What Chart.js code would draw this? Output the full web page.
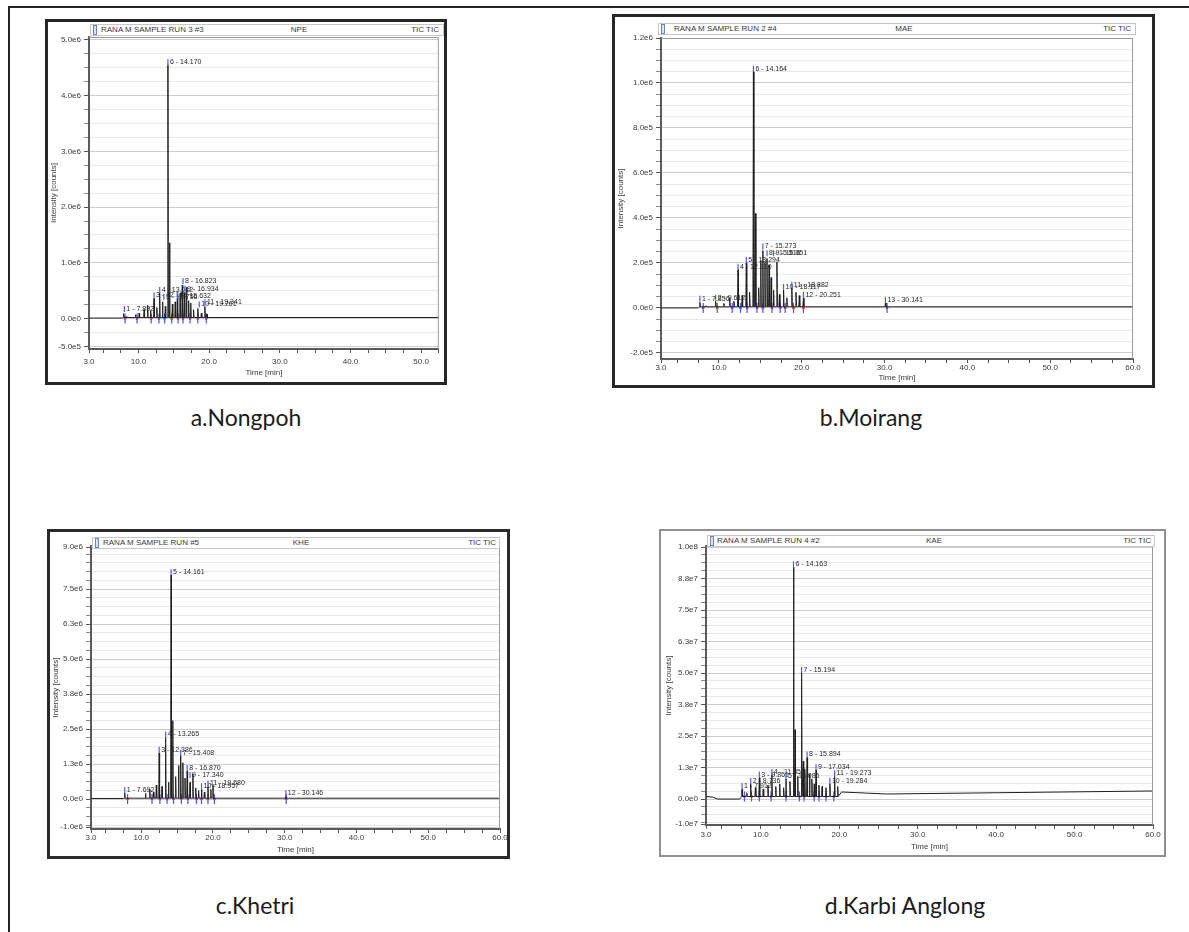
<!DOCTYPE html>
<html>
<head>
<meta charset="utf-8">
<script src="https://cdn.jsdelivr.net/npm/chart.js@4.4.1/dist/chart.umd.min.js"></script>
<style>
  body { margin: 0; width: 1189px; height: 932px; background: #fff; position: relative; overflow: hidden; font-family: 'Liberation Sans', Arial, sans-serif; }
  .frame { position: absolute; left: 8px; top: 6px; width: 1200px; height: 960px; border-left: 2px solid #222; border-top: 2px solid #222; }
  .box { position: absolute; box-sizing: border-box; z-index: 5; }
  .hdr { position: absolute; height: 12px; box-sizing: border-box; border: 1px solid #c6c6c6; background: #fff; font-size: 8px; line-height: 10px; color: #3a3a3a; z-index: 2; }
  .hdr span { position: absolute; top: 0; white-space: nowrap; }
  .hdr .mid { transform: translateX(-50%); }
  .hdr i { position: absolute; left: 2px; top: 0; width: 2px; height: 8px; border: 1px solid #6b86b5; background: #d8e4f4; }
  .cap { position: absolute; font-family: Lato, 'Open Sans', sans-serif; font-size: 23px; line-height: 28px; color: #1c1c1c; transform: translateX(-50%); white-space: nowrap; }
  canvas { position: absolute; z-index: 1; }
</style>
</head>
<body>
<div class="frame"></div>

<div class="box" style="left:45px;top:19px;width:402px;height:366px;border:3px solid #262626"></div>
<div class="box" style="left:612px;top:14px;width:543px;height:374px;border:3px solid #262626"></div>
<div class="box" style="left:47px;top:529px;width:463px;height:330px;border:3px solid #2a2a2a"></div>
<div class="box" style="left:659px;top:529px;width:507px;height:328px;border:2px solid #8f8f8f"></div>

<div class="hdr" style="left:90px;top:24px;width:354px"><i></i><span style="left:10px">RANA M SAMPLE RUN 3 #3</span><span class="mid" style="left:208px">NPE</span><span style="right:4px">TIC TIC</span></div>
<div class="hdr" style="left:658px;top:23px;width:478px"><i></i><span style="left:15px">RANA M SAMPLE RUN 2 #4</span><span class="mid" style="left:245px">MAE</span><span style="right:4px">TIC TIC</span></div>
<div class="hdr" style="left:92px;top:537px;width:408px"><i></i><span style="left:10px">RANA M SAMPLE RUN #5</span><span class="mid" style="left:208px">KHE</span><span style="right:3px">TIC TIC</span></div>
<div class="hdr" style="left:707px;top:535px;width:448px"><i></i><span style="left:9px">RANA M SAMPLE RUN 4 #2</span><span class="mid" style="left:226px">KAE</span><span style="right:3px">TIC TIC</span></div>

<div class="cap" style="left:246px;top:403px">a.Nongpoh</div>
<div class="cap" style="left:871px;top:403px">b.Moirang</div>
<div class="cap" style="left:255px;top:891px">c.Khetri</div>
<div class="cap" style="left:905px;top:891px">d.Karbi Anglong</div>

<script>
// shared x axis
const xTicks = [3, 10, 20, 30, 40, 50, 60];
const xTickLabels = ['3.0', '10.0', '20.0', '30.0', '40.0', '50.0', '60.0'];

// a. Nongpoh (NPE)
const aBefore = [[3, 0.01e6], [7.7, 0.01e6]];
const aTimes = [7.9, 8.3, 9.6, 10.1, 10.8, 11.3, 11.7, 12.2, 12.6, 13.0, 13.4, 13.8, 14.17, 14.4, 14.8, 15.2, 15.5, 15.9, 16.2, 16.5, 16.8, 17.1, 17.4, 17.8, 18.4, 18.9, 19.4, 19.7];
const aHeights = [0.09e6, 0.04e6, 0.07e6, 0.1e6, 0.16e6, 0.24e6, 0.14e6, 0.36e6, 0.2e6, 0.46e6, 0.3e6, 0.22e6, 4.55e6, 1.36e6, 0.26e6, 0.3e6, 0.35e6, 0.45e6, 0.6e6, 0.46e6, 0.56e6, 0.32e6, 0.28e6, 0.16e6, 0.18e6, 0.1e6, 0.22e6, 0.08e6];
const aAfter = [[20, 0.02e6], [60, 0.02e6]];
const aMarks = [8.1, 9.8, 11.8, 12.9, 13.7, 14.7, 15.6, 16.3, 17.3, 18.4, 19.6];
const aLabels = [
  [8.0, 0.12e6, '1 - 7.892'],
  [12.2, 0.36e6, '3 - 12.115'],
  [13.0, 0.46e6, '4 - 13.012'],
  [13.6, 0.34e6, '5 - 13.756'],
  [14.17, 4.55e6, '6 - 14.170'],
  [15.5, 0.35e6, '7 - 15.632'],
  [16.3, 0.62e6, '8 - 16.823'],
  [16.6, 0.48e6, '9 - 16.934'],
  [18.6, 0.2e6, '10 - 19.261'],
  [19.4, 0.24e6, '11 - 19.341']
];
const aYTicks = [-5e5, 0, 1e6, 2e6, 3e6, 4e6, 5e6];
const aYTickLabels = ['-5.0e5', '0.0e0', '1.0e6', '2.0e6', '3.0e6', '4.0e6', '5.0e6'];

// b. Moirang (MAE)
const bBefore = [[3, 0], [7.5, 0]];
const bTimes = [7.7, 8.4, 9.6, 10.6, 11.3, 11.8, 12.3, 12.8, 13.3, 13.7, 14.16, 14.4, 14.8, 15.05, 15.3, 15.55, 15.8, 16.05, 16.3, 16.6, 17.0, 17.3, 17.8, 18.2, 18.8, 19.3, 19.7, 20.2, 30.1];
const bHeights = [0.25e5, 0.1e5, 0.3e5, 0.2e5, 0.45e5, 0.3e5, 1.7e5, 0.55e5, 2.0e5, 0.7e5, 10.5e5, 4.2e5, 0.9e5, 2.1e5, 2.55e5, 2.05e5, 2.2e5, 1.9e5, 1.35e5, 0.8e5, 2.05e5, 0.6e5, 0.8e5, 0.45e5, 0.9e5, 0.7e5, 0.55e5, 0.45e5, 0.22e5];
const bAfter = [[30.5, 0.05e5], [60, 0.05e5]];
const bMarks = [8.1, 9.8, 11.6, 12.6, 13.4, 14.6, 15.3, 16.4, 17.4, 18.0, 19.0, 20.2, 30.3];
const bLabels = [
  [7.7, 0.27e5, '1 - 7.856'],
  [9.6, 0.32e5, '2 - 9.612'],
  [12.3, 1.7e5, '4 - 12.310'],
  [13.3, 2.0e5, '5 - 13.294'],
  [14.16, 10.5e5, '6 - 14.164'],
  [15.3, 2.6e5, '7 - 15.273'],
  [15.8, 2.3e5, '8 - 15.516'],
  [16.6, 2.3e5, '9 - 16.051'],
  [17.8, 0.8e5, '10 - 18.117'],
  [18.8, 0.9e5, '11 - 18.882'],
  [20.2, 0.45e5, '12 - 20.251'],
  [30.1, 0.22e5, '13 - 30.141']
];
const bYTicks = [-2e5, 0, 2e5, 4e5, 6e5, 8e5, 1e6, 1.2e6];
const bYTickLabels = ['-2.0e5', '0.0e0', '2.0e5', '4.0e5', '6.0e5', '8.0e5', '1.0e6', '1.2e6'];

// c. Khetri (KHE)
const cBefore = [[3, 0.02e6], [7.5, 0.02e6]];
const cTimes = [7.7, 8.4, 10.6, 11.2, 11.7, 12.1, 12.5, 12.9, 13.4, 13.8, 14.16, 14.4, 14.8, 15.2, 15.5, 15.8, 16.1, 16.4, 16.8, 17.2, 17.6, 18.0, 18.4, 18.8, 19.3, 19.7, 20.0, 30.15];
const cHeights = [0.22e6, 0.05e6, 0.2e6, 0.35e6, 0.25e6, 0.5e6, 1.65e6, 0.45e6, 2.2e6, 0.6e6, 8.0e6, 2.8e6, 0.8e6, 1.2e6, 1.55e6, 1.3e6, 0.75e6, 1.0e6, 0.6e6, 0.9e6, 0.4e6, 0.3e6, 0.35e6, 0.25e6, 0.45e6, 0.35e6, 0.5e6, 0.1e6];
const cAfter = [[30.5, 0.03e6], [60, 0.03e6]];
const cMarks = [8.1, 11.5, 12.6, 13.6, 14.5, 15.6, 16.5, 17.7, 18.4, 19.3, 20.2, 30.2];
const cLabels = [
  [7.7, 0.22e6, '1 - 7.692'],
  [12.5, 1.65e6, '3 - 12.386'],
  [13.4, 2.2e6, '4 - 13.265'],
  [14.16, 8.0e6, '5 - 14.161'],
  [15.5, 1.55e6, '7 - 15.408'],
  [16.4, 1.0e6, '8 - 16.870'],
  [16.8, 0.75e6, '9 - 17.340'],
  [18.4, 0.35e6, '10 - 18.957'],
  [19.3, 0.45e6, '11 - 19.680'],
  [30.15, 0.1e6, '12 - 30.146']
];
const cYTicks = [-1e6, 0, 1.25e6, 2.5e6, 3.75e6, 5e6, 6.25e6, 7.5e6, 9e6];
const cYTickLabels = ['-1.0e6', '0.0e0', '1.3e6', '2.5e6', '3.8e6', '5.0e6', '6.3e6', '7.5e6', '9.0e6'];

// d. Karbi Anglong (KAE)
const dBefore = [[3, 0.1e7], [3.8, 0.08e7], [4.5, 0], [7.3, 0]];
const dTimes = [7.6, 8.2, 8.7, 9.3, 9.8, 10.3, 10.9, 11.4, 11.9, 12.4, 12.9, 13.2, 13.7, 14.16, 14.35, 14.7, 15.19, 15.4, 15.6, 15.89, 16.2, 16.5, 16.8, 17.03, 17.4, 17.8, 18.3, 18.8, 19.4, 19.8];
const dHeights = [0.4e7, 0.25e7, 0.6e7, 0.45e7, 0.85e7, 0.4e7, 0.55e7, 0.95e7, 0.5e7, 0.6e7, 0.45e7, 0.8e7, 0.7e7, 9.2e7, 2.75e7, 0.9e7, 5.0e7, 1.5e7, 1.2e7, 1.65e7, 1.0e7, 0.8e7, 0.6e7, 1.15e7, 0.55e7, 0.5e7, 0.45e7, 0.6e7, 0.9e7, 0.5e7];
const dAfter = [[20.3, 0.28e7], [26, 0.2e7], [40, 0.25e7], [60, 0.32e7]];
const dMarks = [7.9, 8.8, 9.8, 11.3, 13.2, 14.9, 15.5, 16.8, 17.4, 18.3, 19.3];
const dLabels = [
  [7.6, 0.4e7, '1 - 7.912'],
  [8.7, 0.6e7, '2 - 8.736'],
  [9.8, 0.85e7, '3 - 9.861'],
  [11.4, 0.95e7, '4 - 11.355'],
  [13.2, 0.8e7, '5 - 13.086'],
  [14.16, 9.2e7, '6 - 14.163'],
  [15.19, 5.0e7, '7 - 15.194'],
  [15.89, 1.65e7, '8 - 15.894'],
  [17.03, 1.15e7, '9 - 17.034'],
  [18.8, 0.6e7, '10 - 19.284'],
  [19.4, 0.9e7, '11 - 19.273']
];
const dYTicks = [-1e7, 0, 1.25e7, 2.5e7, 3.75e7, 5e7, 6.25e7, 7.5e7, 8.75e7, 1e8];
const dYTickLabels = ['-1.0e7', '0.0e0', '1.3e7', '2.5e7', '3.8e7', '5.0e7', '6.3e7', '7.5e7', '8.8e7', '1.0e8'];

Chart.defaults.font.family = "'Liberation Sans', Arial, sans-serif";
Chart.defaults.font.size = 8;
Chart.defaults.color = '#3a3a3a';

// baseline -> spike -> baseline for every peak
function spikes(before, times, heights, foot, after) {
  const pts = before.map(p => ({ x: p[0], y: p[1] }));
  times.forEach((t, i) => {
    pts.push({ x: t - 0.06, y: foot }, { x: t, y: heights[i] }, { x: t + 0.06, y: foot });
  });
  after.forEach(p => pts.push({ x: p[0], y: p[1] }));
  return pts;
}

const peakText = {
  id: 'peakText',
  afterDatasetsDraw(chart, args, opts) {
    const { ctx, chartArea: area, scales: { x, y } } = chart;
    ctx.save();
    ctx.strokeStyle = '#9a9a9a';
    ctx.lineWidth = 1;
    ctx.beginPath();
    ctx.moveTo(area.left, area.top + 0.5);
    ctx.lineTo(area.right - 0.5, area.top + 0.5);
    ctx.lineTo(area.right - 0.5, area.bottom);
    ctx.stroke();
    ctx.font = '7px "Liberation Sans", Arial, sans-serif';
    ctx.textBaseline = 'middle';
    opts.items.forEach(([t, v, txt]) => {
      const px = x.getPixelForValue(t), py = y.getPixelForValue(v);
      ctx.strokeStyle = '#4a5cff';
      ctx.lineWidth = 1.2;
      ctx.beginPath();
      ctx.moveTo(px, py - 6);
      ctx.lineTo(px, py);
      ctx.stroke();
      ctx.fillStyle = '#262626';
      ctx.fillText(txt, px + 2, py - 3);
    });
    ctx.restore();
  }
};

function chromatogram(p) {
  const padTop = 8;
  const left = p.plot[0] - p.yW, top = p.plot[1] - padTop;
  const cv = document.createElement('canvas');
  cv.width = p.plot[2] + p.padRight - left;
  cv.height = p.plot[3] + p.xH - top;
  cv.style.left = left + 'px';
  cv.style.top = top + 'px';
  document.body.appendChild(cv);

  const isMajor = v => p.yTicks.some(m => Math.abs(m - v) < p.yMinor / 10);
  const marks = p.marks.map(t => ({ x: t, y: p.markY }));

  new Chart(cv, {
    type: 'line',
    data: {
      datasets: [
        { data: spikes(p.before, p.times, p.heights, p.foot, p.after), borderColor: '#202020', borderWidth: 1, pointRadius: 0, tension: 0 },
        { type: 'scatter', data: marks, pointStyle: 'line', pointRotation: 90, pointRadius: 5, pointBorderColor: '#4455ff', pointBorderWidth: 1.2 },
        { type: 'scatter', data: marks, pointStyle: 'circle', pointRadius: 1.4, pointBackgroundColor: '#ff2626', pointBorderWidth: 0 }
      ]
    },
    options: {
      responsive: false,
      animation: false,
      devicePixelRatio: 1,
      events: [],
      layout: { padding: { top: padTop, right: p.padRight, left: 0, bottom: 0 } },
      plugins: { legend: { display: false }, tooltip: { enabled: false }, peakText: { items: p.labels } },
      scales: {
        x: {
          type: 'linear', min: 3, max: p.xMax,
          afterFit: s => { s.height = p.xH; },
          afterBuildTicks: s => {
            const t = [{ value: 3 }];
            for (let v = 5; v <= s.max + 1e-9; v += 2.5) t.push({ value: v });
            s.ticks = t;
          },
          ticks: {
            autoSkip: false, maxRotation: 0, minRotation: 0, padding: p.tickPad,
            callback: v => { const i = xTicks.indexOf(v); return i >= 0 ? xTickLabels[i] : ''; }
          },
          grid: { drawOnChartArea: false, tickLength: 4, tickColor: '#555' },
          border: { color: '#5a5a5a', width: 2 },
          title: { display: true, text: 'Time [min]', padding: { top: 0, bottom: 2 } }
        },
        y: {
          min: p.yMin, max: p.yMax,
          afterFit: s => { s.width = p.yW; },
          afterBuildTicks: s => {
            const vals = p.yTicks.slice();
            for (let v = p.yMinor; v <= p.yMax; v += p.yMinor) if (!isMajor(v)) vals.push(v);
            for (let v = -p.yMinor; v >= p.yMin; v -= p.yMinor) if (!isMajor(v)) vals.push(v);
            s.ticks = vals.sort((m, n) => m - n).map(v => ({ value: v }));
          },
          ticks: {
            autoSkip: false, padding: 3,
            callback: v => {
              const i = p.yTicks.findIndex(m => Math.abs(m - v) < p.yMinor / 10);
              return i >= 0 ? p.yTickLabels[i] : '';
            }
          },
          grid: {
            tickLength: 5,
            color: c => (c.tick && isMajor(c.tick.value)) ? '#cdcdcd' : '#e9e9e9',
            tickColor: c => (c.tick && isMajor(c.tick.value)) ? '#555' : '#888'
          },
          border: { color: '#5a5a5a', width: 2 },
          title: { display: true, text: 'Intensity [counts]', padding: { top: 1, bottom: 0 } }
        }
      }
    },
    plugins: [peakText]
  });
}

chromatogram({
  plot: [89, 37, 445, 349], yW: 41, padRight: 0, xH: 31, tickPad: 4, xMax: 52.5,
  yMin: -5.45e5, yMax: 5.05e6, yMinor: 2.5e5, yTicks: aYTicks, yTickLabels: aYTickLabels,
  before: aBefore, times: aTimes, heights: aHeights, foot: 0.02e6, after: aAfter,
  marks: aMarks, markY: 0, labels: aLabels
});
chromatogram({
  plot: [661, 38, 1133, 359], yW: 46, padRight: 10, xH: 26, tickPad: 0, xMax: 60,
  yMin: -2.27e5, yMax: 1.2e6, yMinor: 5e4, yTicks: bYTicks, yTickLabels: bYTickLabels,
  before: bBefore, times: bTimes, heights: bHeights, foot: 0.05e5, after: bAfter,
  marks: bMarks, markY: 0, labels: bLabels
});
chromatogram({
  plot: [91, 546, 500, 829], yW: 41, padRight: 10, xH: 28, tickPad: 0, xMax: 60,
  yMin: -1.07e6, yMax: 9.04e6, yMinor: 3.125e5, yTicks: cYTicks, yTickLabels: cYTickLabels,
  before: cBefore, times: cTimes, heights: cHeights, foot: 0.03e6, after: cAfter,
  marks: cMarks, markY: 0, labels: cLabels
});
chromatogram({
  plot: [706, 546, 1153, 825], yW: 43, padRight: 10, xH: 29, tickPad: 1, xMax: 60,
  yMin: -1.03e7, yMax: 1.004e8, yMinor: 3.125e6, yTicks: dYTicks, yTickLabels: dYTickLabels,
  before: dBefore, times: dTimes, heights: dHeights, foot: 0.1e7, after: dAfter,
  marks: dMarks, markY: 0.1e7, labels: dLabels
});
</script>
</body>
</html>
